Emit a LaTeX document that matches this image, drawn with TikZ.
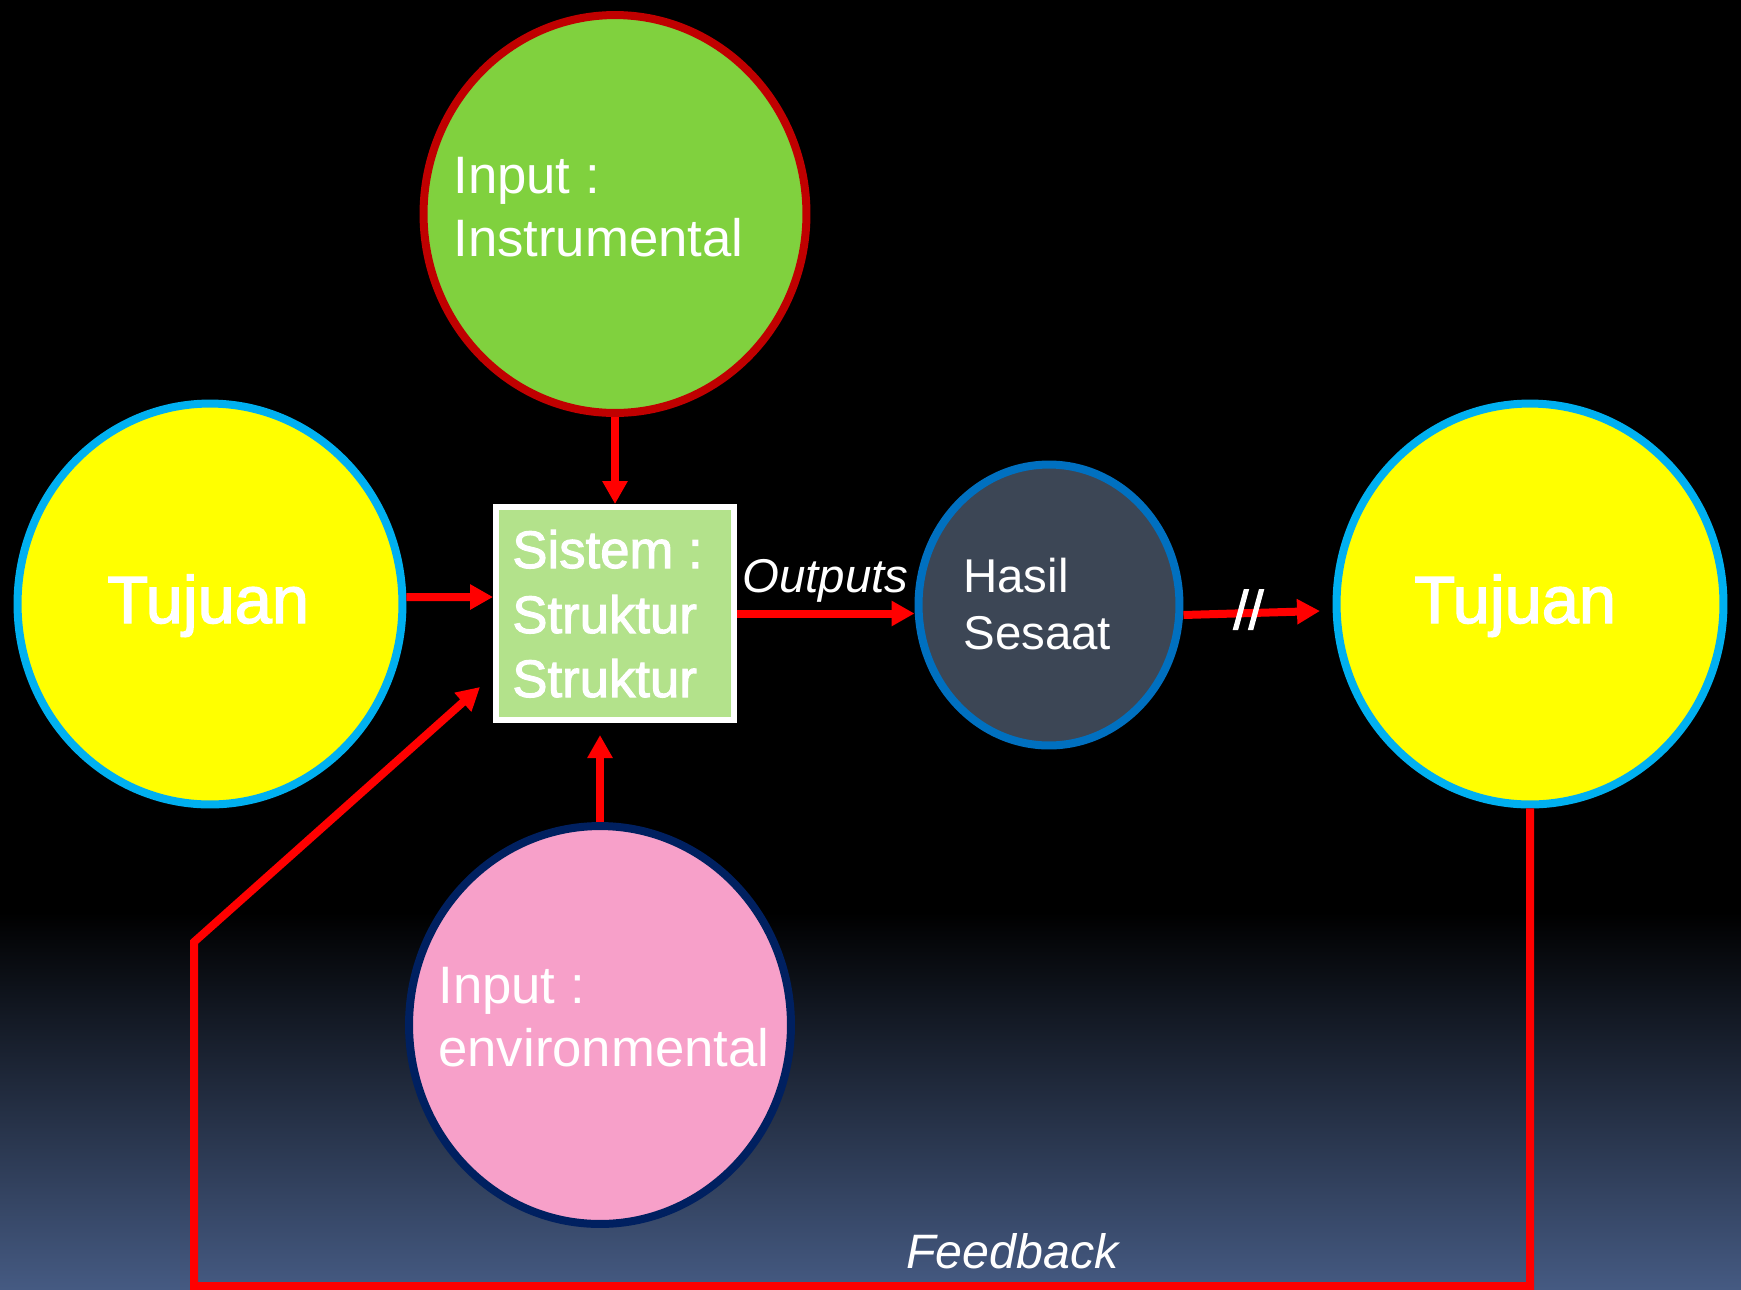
\documentclass[tikz,border=0pt]{standalone}
\usepackage{fontspec}
\setmainfont{Liberation Sans}
\newfontfamily\heavyfont[FakeBold=2]{Liberation Sans}
\usetikzlibrary{arrows.meta,shapes.geometric}
\definecolor{bgbot}{RGB}{69,90,130}
\definecolor{grfill}{RGB}{128,209,62}
\definecolor{grline}{RGB}{192,0,0}
\definecolor{boxfill}{RGB}{179,226,139}
\definecolor{ylfill}{RGB}{255,255,0}
\definecolor{ylline}{RGB}{0,176,240}
\definecolor{hsfill}{RGB}{60,70,85}
\definecolor{hsline}{RGB}{0,112,192}
\definecolor{pkfill}{RGB}{247,160,201}
\definecolor{pkline}{RGB}{0,32,96}
\definecolor{arrred}{RGB}{255,0,0}
\begin{document}
\begin{tikzpicture}[x=0.02cm,y=-0.02cm,
  blob/.style={ellipse,line width=0.16cm,inner sep=0pt},
  txt/.style={text=white,inner sep=0pt,anchor=base west},
  fmid/.style={font=\fontsize{30}{36}\selectfont},
  fheavy/.style={font=\heavyfont\fontsize{30}{36}\selectfont},
  fsmall/.style={font=\fontsize{27}{32}\selectfont},
  fbig/.style={font=\heavyfont\fontsize{38}{45}\selectfont},
  arr/.style={draw=arrred,line width=0.16cm,-{Triangle[width=0.48cm,length=0.46cm]}}]
\useasboundingbox (0,0) rectangle (1741,1289);
\fill[black] (0,0) rectangle (1741,913);
\shade[top color=black,bottom color=bgbot] (0,912) rectangle (1741,1289);
% shapes
\node[blob,draw=grline,fill=grfill,minimum width=7.66cm,minimum height=7.96cm] (green) at (615,214) {};
\node[blob,draw=ylline,fill=ylfill,minimum width=7.70cm,minimum height=8.02cm] (tujL) at (210,604) {};
\node[blob,draw=ylline,fill=ylfill,minimum width=7.74cm,minimum height=8.02cm] (tujR) at (1530,604) {};
\node[blob,draw=hsline,fill=hsfill,minimum width=5.22cm,minimum height=5.62cm] (hasil) at (1049,605) {};
\node[blob,draw=pkline,fill=pkfill,minimum width=7.64cm,minimum height=7.96cm] (pink) at (600,1025) {};
\node[draw=white,fill=boxfill,line width=0.12cm,minimum width=4.76cm,minimum height=4.26cm,inner sep=0pt] (box) at (615,613.5) {};
% texts
\node[txt,fmid] (g1) at (453,193) {Input :};
\node[txt,fmid] (g2) at (453,256) {Instrumental};
\node[txt,fheavy] (s1) at (512,568) {Sistem :};
\node[txt,fheavy] (s2) at (512,633) {Struktur};
\node[txt,fheavy] (s3) at (512,697) {Struktur};
\node[txt,fbig] (t1) at (107,623) {Tujuan};
\node[txt,fbig] (t2) at (1414,623) {Tujuan};
\node[txt,fsmall] (h1) at (963,592) {Hasil};
\node[txt,fsmall] (h2) at (963,649) {Sesaat};
\node[txt,fmid] (p1) at (438,1003) {Input :};
\node[txt,fmid] (p2) at (438,1066) {environmental};
\node[txt,font=\fontsize{27}{32}\selectfont\itshape] (out) at (742,592) {Outputs};
\node[txt,font=\fontsize{27.5}{33}\selectfont\itshape] (fb) at (906,1268) {Feedback};
% arrows
\draw[arr] (green.south) -- (box.north);
\draw[arr] ([yshift=0.14cm]tujL.east) -- ([yshift=0.33cm]box.west);
\draw[arr] (box.east) -- (box.east -| hasil.west);
\coordinate (hstip) at (1320,611);
\draw[arr] ([yshift=-0.2cm]hasil.east) -- (hstip);
\coordinate (pktip) at (600,735);
\draw[arr] (pink.north) -- (pktip);
\coordinate (fb1) at (1530,1286);
\coordinate (fb2) at (194,1286);
\coordinate (fb3) at (194,942);
\coordinate (fbtip) at (480,687);
\draw[arr] (tujR.south) -- (fb1) -- (fb2) -- (fb3) -- (fbtip);
\node[txt,font=\heavyfont\fontsize{31}{36}\selectfont] (brk) at (1233,629) {//};
\end{tikzpicture}
\end{document}
